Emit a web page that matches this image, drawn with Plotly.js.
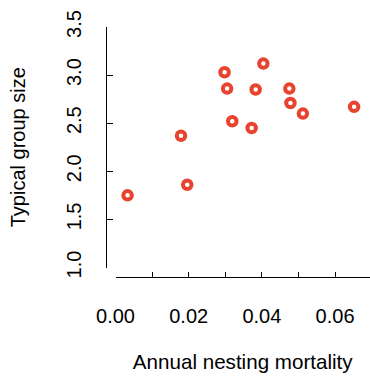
<!DOCTYPE html>
<html>
<head>
<meta charset="utf-8">
<script src="https://cdn.plot.ly/plotly-3.0.1.min.js"></script>
<style>html,body{margin:0;padding:0;background:#fff;}#chart{width:370px;height:376px;}</style>
</head>
<body>
<div id="chart"></div>
<script>
// Data
const mortality = [0.0033, 0.0179, 0.0196, 0.0298, 0.0305, 0.0319, 0.0372, 0.0383, 0.0404, 0.0475, 0.0478, 0.0512, 0.0652];
const groupSize = [1.75, 2.37, 1.86, 3.03, 2.86, 2.52, 2.45, 2.85, 3.12, 2.86, 2.71, 2.60, 2.67];

const xTickVals = [0, 0.01, 0.02, 0.03, 0.04, 0.05, 0.06, 0.07];
const xTickText = ['0.00', '', '0.02', '', '0.04', '', '0.06', ''];
const yTickVals = [1.0, 1.5, 2.0, 2.5, 3.0, 3.5];
const yTickText = ['1.0', '1.5', '2.0', '2.5', '3.0', '3.5'];

const font = {family: '"Liberation Sans", Arial, sans-serif', size: 20, color: '#000'};
const titleFont = {family: '"Liberation Sans", Arial, sans-serif', size: 20.6, color: '#000'};

const trace = {
  x: mortality,
  y: groupSize,
  type: 'scatter',
  mode: 'markers',
  marker: {symbol: 'circle-open', size: 8.5, color: '#E8432F', line: {width: 4, color: '#E8432F'}},
  cliponaxis: false,
  hoverinfo: 'none'
};

const layout = {
  width: 370, height: 376,
  margin: {l: 106, r: 0, t: 27, b: 99, pad: 0},
  paper_bgcolor: '#fff', plot_bgcolor: '#fff',
  showlegend: false,
  font: font,
  xaxis: {
    domain: [0.036, 1], range: [0, 0.06954], anchor: 'free', position: 0,
    showline: true, linecolor: '#000', linewidth: 1, mirror: false,
    showgrid: false, zeroline: false,
    ticks: 'inside', ticklen: 5, tickwidth: 1, tickcolor: '#000',
    tickmode: 'array', tickvals: xTickVals, ticktext: xTickText,
    ticklabelstandoff: 21,
    tickfont: font,
    title: {text: 'Annual nesting mortality', font: titleFont, standoff: 28},
    automargin: false
  },
  yaxis: {
    domain: [0.038, 1], range: [1, 3.5], anchor: 'free', position: 0,
    showline: true, linecolor: '#000', linewidth: 1, mirror: false,
    showgrid: false, zeroline: false,
    ticks: 'inside', ticklen: 6, tickwidth: 1, tickcolor: '#000',
    tickmode: 'array', tickvals: yTickVals, ticktext: yTickText,
    tickangle: -90,
    ticklabelstandoff: 17,
    tickfont: font,
    title: {text: 'Typical group size', font: font, standoff: 31},
    automargin: false
  }
};

Plotly.newPlot('chart', [trace], layout, {staticPlot: true, displayModeBar: false});
</script>
</body>
</html>
